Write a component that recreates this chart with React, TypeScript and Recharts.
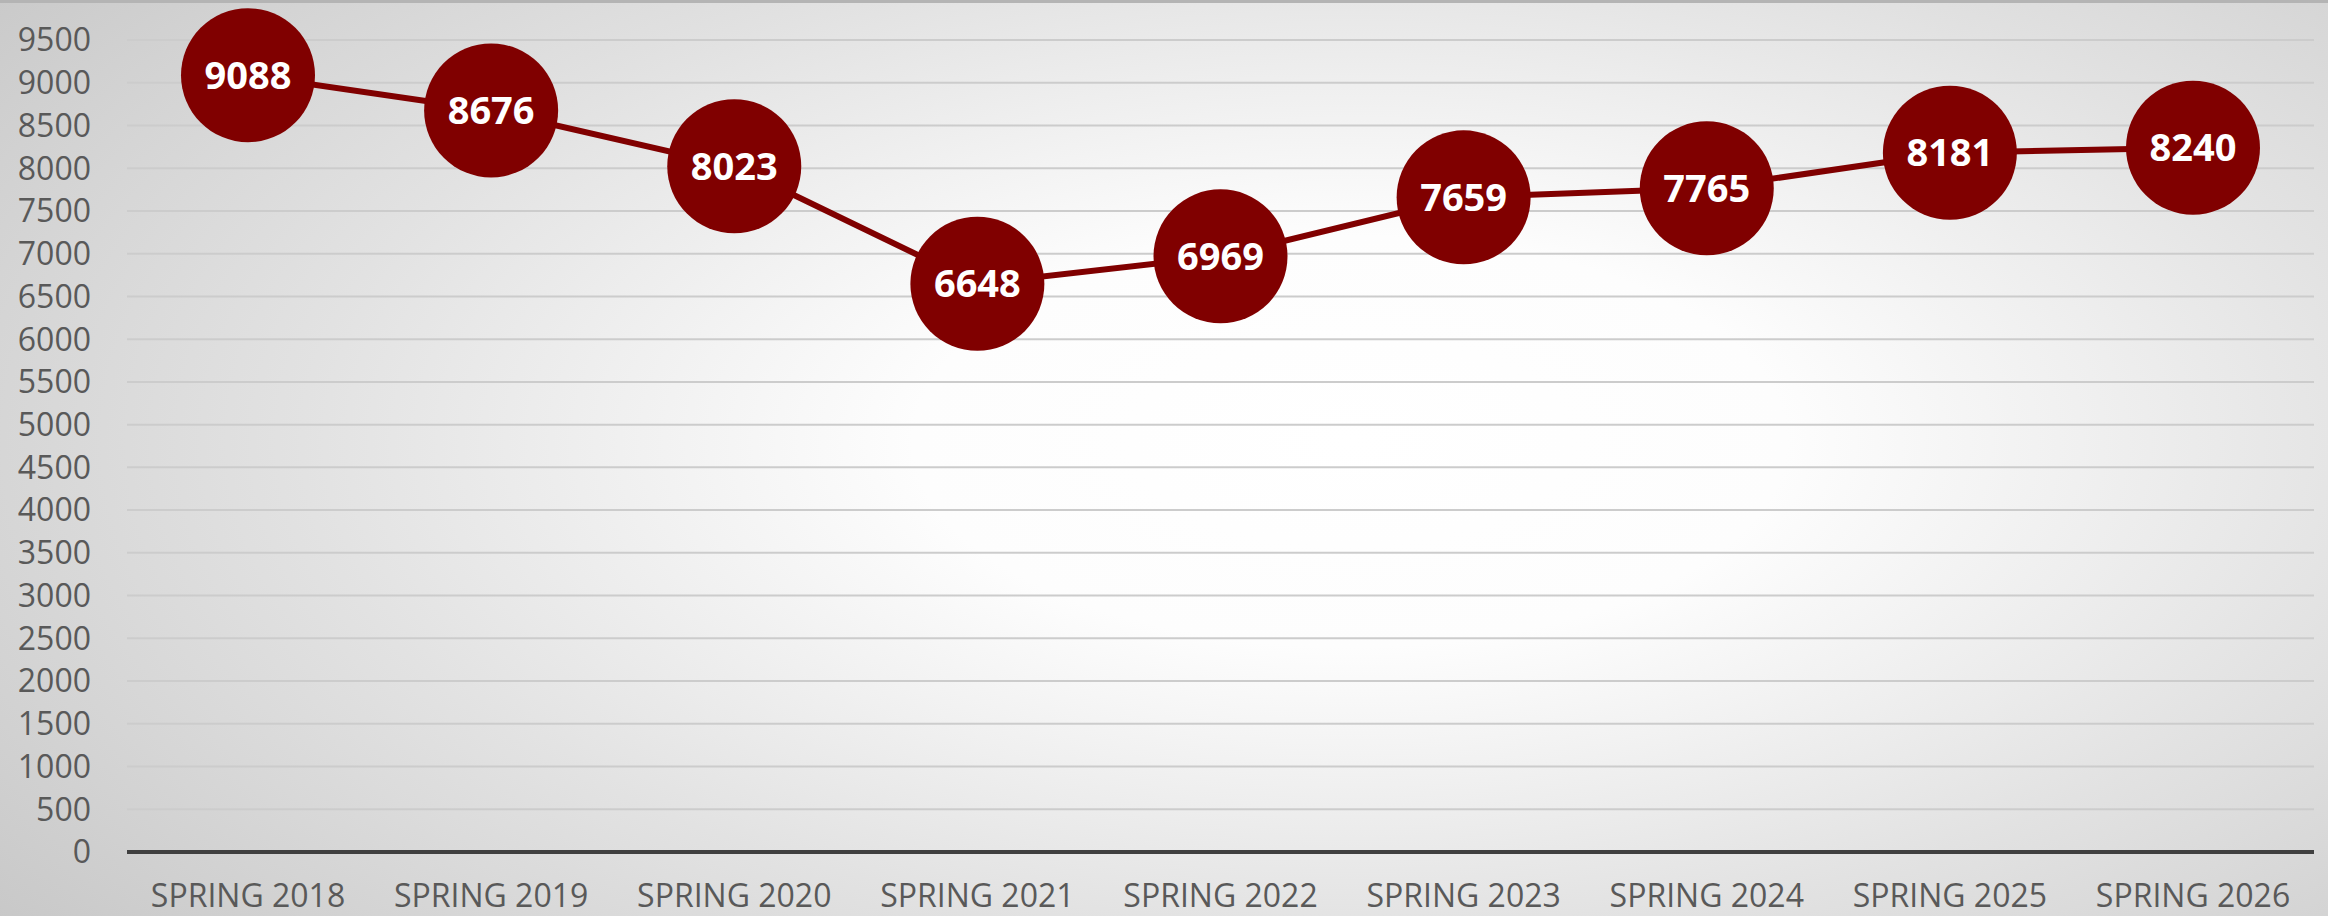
import { LineChart, Line, XAxis, YAxis, CartesianGrid, LabelList } from 'recharts'

const terms = [
  'SPRING 2018', 'SPRING 2019', 'SPRING 2020', 'SPRING 2021', 'SPRING 2022',
  'SPRING 2023', 'SPRING 2024', 'SPRING 2025', 'SPRING 2026',
]
const enrollment = [9088, 8676, 8023, 6648, 6969, 7659, 7765, 8181, 8240]
const yTicks = [
  0, 500, 1000, 1500, 2000, 2500, 3000, 3500, 4000, 4500,
  5000, 5500, 6000, 6500, 7000, 7500, 8000, 8500, 9000, 9500,
]

const data = terms.map((term, i) => ({ term, value: enrollment[i] }))

const MAROON = '#800000'
const FONT = '"Open Sans", sans-serif'

function Bubble(props: any) {
  const { cx, cy } = props
  if (cx == null || cy == null) return null
  return <circle cx={cx} cy={cy} r={67} fill={MAROON} />
}

export default function App() {
  return (
    <div
      style={{
        position: 'absolute',
        left: 0,
        top: 0,
        width: 2328,
        height: 916,
        background: 'radial-gradient(ellipse 75% 90% at 58% 48%, #ffffff 0%, #fdfdfd 25%, #e2e2e2 60%, #c6c6c6 100%)',
        borderTop: '3px solid #b4b4b4',
        boxSizing: 'border-box',
        fontFamily: FONT,
      }}
    >
      <LineChart
        width={2328}
        height={913}
        data={data}
        margin={{ top: 37, right: 14, bottom: 34, left: 0 }}
      >
        <CartesianGrid vertical={false} stroke="#cccccc" strokeWidth={2} />
        <XAxis
          dataKey="term"
          height={30}
          padding={{ left: 121, right: 121 }}
          axisLine={{ stroke: '#404040', strokeWidth: 4 }}
          tickLine={false}
          tickSize={0}
          tickMargin={32}
          tick={{ fill: '#595959', fontSize: 32, fontFamily: FONT }}
          interval={0}
        />
        <YAxis
          width={127}
          domain={[0, 9500]}
          ticks={yTicks}
          interval={0}
          axisLine={false}
          tickLine={false}
          tickSize={0}
          tickMargin={36}
          tick={{ fill: '#595959', fontSize: 32, fontFamily: FONT }}
        />
        <Line
          type="linear"
          dataKey="value"
          stroke={MAROON}
          strokeWidth={6}
          dot={<Bubble />}
          activeDot={false}
          isAnimationActive={false}
        >
          <LabelList
            dataKey="value"
            position="center"
            fill="#ffffff"
            fontSize={38}
            fontWeight={700}
            fontFamily={FONT}
          />
        </Line>
      </LineChart>
    </div>
  )
}
